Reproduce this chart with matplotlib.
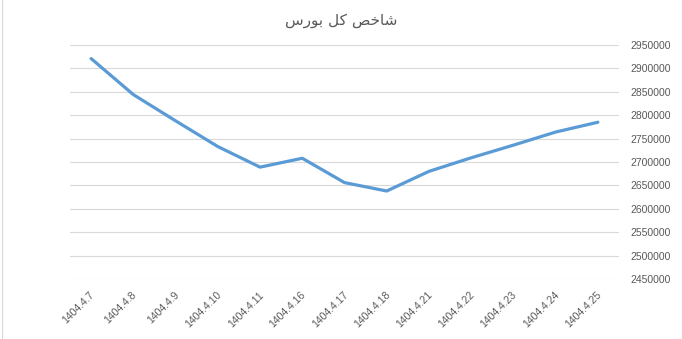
"""Line chart of the Tehran stock exchange total index (شاخص کل بورس)."""

import matplotlib

matplotlib.use("Agg")
import matplotlib.pyplot as plt
import matplotlib.transforms as mtransforms
from matplotlib.lines import Line2D

TITLE = "شاخص کل بورس"

DATES = [
    "1404.4.7", "1404.4.8", "1404.4.9", "1404.4.10", "1404.4.11",
    "1404.4.16", "1404.4.17", "1404.4.18", "1404.4.21", "1404.4.22",
    "1404.4.23", "1404.4.24", "1404.4.25",
]
INDEX_VALUES = [
    2921000, 2844000, 2788000, 2733000, 2689000,
    2708000, 2656000, 2638000, 2680000, 2709000,
    2736000, 2764000, 2785000,
]
Y_TICKS = list(range(2450000, 2950001, 50000))

LINE_COLOR = "#5B9BD5"
GRID_COLOR = "#D9D9D9"
TEXT_COLOR = "#595959"

# matplotlib has no Arabic shaping, so pick the contextual glyph by hand.
# forms: (isolated, final, initial, medial); None = letter never joins forward
_FORMS = {
    "ش": ("\uFEB5", "\uFEB6", "\uFEB7", "\uFEB8"),
    "ا": ("\uFE8D", "\uFE8E", None, None),
    "خ": ("\uFEA5", "\uFEA6", "\uFEA7", "\uFEA8"),
    "ص": ("\uFEB9", "\uFEBA", "\uFEBB", "\uFEBC"),
    "ک": ("\uFB8E", "\uFB8F", "\uFB90", "\uFB91"),
    "ل": ("\uFEDD", "\uFEDE", "\uFEDF", "\uFEE0"),
    "ب": ("\uFE8F", "\uFE90", "\uFE91", "\uFE92"),
    "و": ("\uFEED", "\uFEEE", None, None),
    "ر": ("\uFEAD", "\uFEAE", None, None),
    "س": ("\uFEB1", "\uFEB2", "\uFEB3", "\uFEB4"),
}


def _joins_next(ch: str) -> bool:
    return ch in _FORMS and _FORMS[ch][2] is not None


def shape_rtl(text: str) -> str:
    """Return visually ordered, contextually shaped text."""
    out = []
    for i, ch in enumerate(text):
        if ch not in _FORMS:
            out.append(ch)
            continue
        prev_joins = i > 0 and _joins_next(text[i - 1])
        next_joins = i + 1 < len(text) and text[i + 1] in _FORMS and _joins_next(ch)
        iso, fin, ini, med = _FORMS[ch]
        if prev_joins and next_joins:
            out.append(med)
        elif prev_joins:
            out.append(fin)
        elif next_joins:
            out.append(ini)
        else:
            out.append(iso)
    return "".join(reversed(out))


W, H = 682, 339
fig = plt.figure(figsize=(W / 100, H / 100), dpi=100)
ax = fig.add_axes([70 / W, 1 - 279 / H, (619 - 70) / W, (279 - 45) / H])

x = list(range(len(DATES)))
ax.plot(x, INDEX_VALUES, color=LINE_COLOR, linewidth=2.3,
        solid_joinstyle="round", solid_capstyle="round")

ax.set_xlim(-0.5, len(DATES) - 0.5)
ax.set_ylim(Y_TICKS[0], Y_TICKS[-1])
ax.set_yticks(Y_TICKS)
ax.set_yticklabels([str(v) for v in Y_TICKS])
ax.yaxis.tick_right()
ax.grid(axis="y", color=GRID_COLOR, linewidth=0.8)
ax.set_axisbelow(True)
for spine in ax.spines.values():
    spine.set_visible(False)

ax.tick_params(axis="y", length=0, pad=8, labelsize=7.5, labelcolor=TEXT_COLOR)
ax.tick_params(axis="x", length=0, pad=10.5, labelsize=7.5, labelcolor=TEXT_COLOR)
ax.set_xticks(x)
ax.set_xticklabels(DATES, rotation=45, ha="right", va="center",
                   rotation_mode="anchor")
offset = mtransforms.ScaledTranslation(1.3 / 72, 0, fig.dpi_scale_trans)
for label in ax.get_xticklabels():
    label.set_transform(label.get_transform() + offset)
for label in ax.get_xticklabels() + ax.get_yticklabels():
    label.set_family("Liberation Sans")

fig.text(0.5, 1 - 21 / H, shape_rtl(TITLE), ha="center", va="center",
         fontsize=11, color=TEXT_COLOR, family=["DejaVu Sans"])

fig.add_artist(Line2D([1.5 / W, 1.5 / W], [0, 1], color=GRID_COLOR,
                      linewidth=0.8, transform=fig.transFigure))

fig.savefig("out.png", dpi=100)
